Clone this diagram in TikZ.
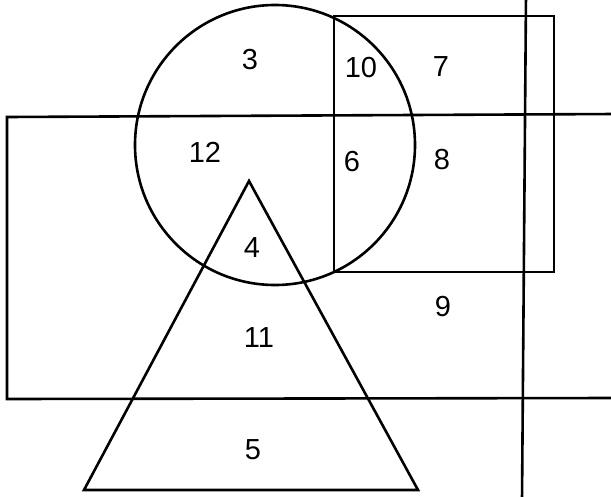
\documentclass[tikz,border=0pt]{standalone}
\usepackage{fontspec}
\setsansfont{Liberation Sans}

\begin{document}
\begin{tikzpicture}[
    x=1pt, y=-1pt,
    font=\sffamily,
    % Estilos de trazos y etiquetas
    outline/.style={draw=black, line width=2.6pt, line join=miter},
    region/.style={font=\sffamily\fontsize{29}{29}\selectfont, inner sep=0pt}
]
\useasboundingbox (0,0) rectangle (611,496);

% -------------------------
% FIGURAS
% -------------------------
% Rectángulo grande (abierto a la derecha)
\draw[outline] (615,114) -- (7,117) -- (7,399) -- (615,398);
% Rectángulo pequeño
\draw[outline] (334,16) rectangle (554,272);
% Círculo
\draw[outline] (275,145) circle[radius=140];
% Triángulo
\draw[outline] (249,181) -- (418,490) -- (84,490) -- cycle;
% Línea vertical
\draw[outline] (526,-5) -- (522,501);

% -------------------------
% REGIONES
% -------------------------
\node[region] (r3)  at (250,60)  {3};
\node[region] (r10) at (361,68)  {10};
\node[region] (r7)  at (441,67)  {7};
\node[region] (r12) at (205,152) {12};
\node[region] (r6)  at (352,162) {6};
\node[region] (r8)  at (442,160) {8};
\node[region] (r4)  at (252,248) {4};
\node[region] (r9)  at (443,307) {9};
\node[region] (r11) at (259,338) {11};
\node[region] (r5)  at (253,450) {5};

\end{tikzpicture}
\end{document}
